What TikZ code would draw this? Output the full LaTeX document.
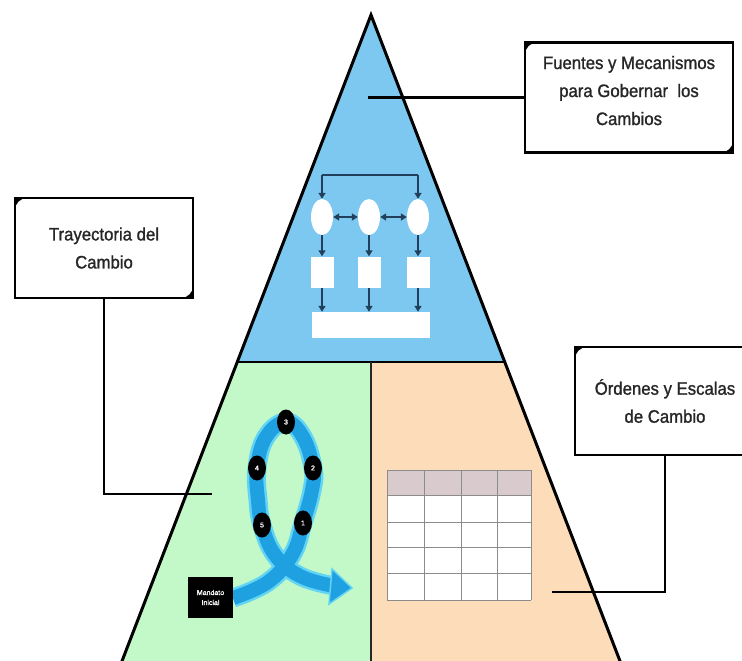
\documentclass[tikz,border=0pt]{standalone}
\usepackage{fontspec}
\setmainfont{Liberation Sans}
\newfontfamily\calloutfont[FakeStretch=0.93,FakeBold=1.2]{Liberation Sans}
\newfontfamily\tinyfont[FakeBold=1.5]{Liberation Sans}
\usetikzlibrary{positioning,arrows.meta,shapes.geometric}
\definecolor{topblue}{HTML}{7DC8F0}
\definecolor{leftgreen}{HTML}{C3F8C8}
\definecolor{rightpeach}{HTML}{FDDDB9}
\definecolor{ribbonblue}{HTML}{1EA0E1}
\definecolor{ribbonglow}{HTML}{62D4F4}
\definecolor{flowdark}{HTML}{22405C}
\definecolor{headgray}{HTML}{D9CACE}
\definecolor{gridgray}{HTML}{8C8C8C}
\definecolor{labelgray}{HTML}{262626}
\tikzset{callout/.style={rectangle, draw=black, line width=2.5pt, fill=white, inner sep=0pt,
  align=center, text=labelgray, font=\calloutfont\fontsize{18}{28}\selectfont,
  path picture={%
    \fill[black] (path picture bounding box.north west) -- ++(#1,0pt)
      arc[start angle=90, end angle=180, radius=#1] -- cycle;
    \fill[black] (path picture bounding box.south east) -- ++(-#1,0pt)
      arc[start angle=270, end angle=360, radius=#1] -- cycle;}},
callout/.default={12pt}}
\tikzset{flowoval/.style={ellipse, fill=white, minimum width=22pt, minimum height=36pt, inner sep=0pt},
flowbox/.style={rectangle, fill=white, minimum width=23pt, minimum height=31pt, inner sep=0pt},
flowarrow/.style={draw=flowdark, line width=1.5pt, -{Triangle[length=6pt,width=7pt]}},
flowboth/.style={draw=flowdark, line width=1.5pt, {Triangle[length=6pt,width=7pt]}-{Triangle[length=6pt,width=7pt]}}}
\tikzset{loopstep/.style={ellipse, fill=black, minimum width=18pt, minimum height=25pt, inner sep=0pt,
  text=white, font=\tinyfont\fontsize{7}{7}\selectfont},
startbox/.style={rectangle, fill=black, minimum width=45pt, minimum height=41pt, inner sep=0pt,
  align=center, text=white, font=\tinyfont\fontsize{7}{10}\selectfont}}

\begin{document}
\begin{tikzpicture}[x=1pt, y=-1pt]
	\path[use as bounding box, clip] (0,0) rectangle (742,661);
	\fill[white] (0,0) rectangle (742,661);
	% pyramid
	\coordinate (apex) at (371,15);
	\coordinate (midleft) at (237.3,362);
	\coordinate (midright) at (504.7,362);
	\coordinate (midmid) at (371,362);
	\coordinate (baseleft) at (114.7,680);
	\coordinate (baseright) at (627.3,680);
	\coordinate (basemid) at (371,680);
	\fill[topblue] (apex) -- (midleft) -- (midright) -- cycle;
	\fill[leftgreen] (midleft) -- (midmid) -- (basemid) -- (baseleft) -- cycle;
	\fill[rightpeach] (midmid) -- (midright) -- (baseright) -- (basemid) -- cycle;
	\draw[line width=2.5pt] (midleft) -- (midright);
	\draw[line width=2pt, draw=black!85] (midmid) -- (basemid);
	\draw[line width=3pt, line join=miter] (baseleft) -- (apex) -- (baseright);

	% flow chart in the top part
	\node[flowoval] (oval1) at (322,217) {};
	\node[flowoval] (oval2) at (369,217) {};
	\node[flowoval] (oval3) at (418,217) {};
	\node[flowbox] (rect1) at (322,272) {};
	\node[flowbox] (rect2) at (369,272) {};
	\node[flowbox] (rect3) at (418,272) {};
	\node[flowbox, minimum width=118pt, minimum height=26pt] (bar) at (371,325) {};
	\coordinate (bracketleft) at (322,175);
	\coordinate (bracketright) at (418,175);
	\draw[draw=flowdark, line width=1.5pt] (bracketleft) -- (bracketright);
	\draw[flowarrow] (bracketleft) -- (oval1.north);
	\draw[flowarrow] (bracketright) -- (oval3.north);
	\draw[flowboth] (oval1) -- (oval2);
	\draw[flowboth] (oval2) -- (oval3);
	\foreach \i in {1,2,3} {
		\draw[flowarrow] (oval\i.south) -- (rect\i.north);
		\draw[flowarrow] (rect\i.south) -- (rect\i.south |- bar.north);
	}

	% change trajectory
	\draw[ribbonglow, line width=19pt] plot[smooth, tension=0.7] coordinates {
		(233,598) (268,582) (292,555) (303,523) (312,490) (313,468) (303,437) (286,422)
		(266,437) (257,468) (258,500) (262,525) (275,555) (300,576) (334,586)};
	\draw[ribbonblue, line width=14pt] plot[smooth, tension=0.7] coordinates {
		(233,598) (268,582) (292,555) (303,523) (312,490) (313,468) (303,437) (286,422)
		(266,437) (257,468) (258,500) (262,525) (275,555) (300,576) (334,586)};
	\filldraw[fill=ribbonblue, draw=ribbonglow, line width=1.5pt, line join=miter]
		(332,569) -- (352,588) -- (329,604) -- cycle;
	\node[loopstep] (step1) at (303,523) {1};
	\node[loopstep] (step2) at (313,468) {2};
	\node[loopstep] (step3) at (286,422) {3};
	\node[loopstep] (step4) at (257,468) {4};
	\node[loopstep] (step5) at (262,525) {5};
	\node[startbox] (mandato) at (210.5,597.5) {Mandato\\Inicial};

	% orders and scales table
	\fill[white] (387,495) rectangle (531,600);
	\fill[headgray] (387,470) rectangle (531,495);
	\foreach \x in {387,424,461,497,531}
		\draw[gridgray, line width=1pt] (\x,470) -- (\x,600);
	\foreach \y in {470,495,522,547,573,600}
		\draw[gridgray, line width=1pt] (387,\y) -- (531,\y);

	% callouts
	\node[callout, minimum width=208pt, minimum height=110pt] (fuentes) at (629,97.5)
		{Fuentes y Mecanismos\\para Gobernar\ \ los\\Cambios\\[-14pt]\mbox{}};
	\node[callout, minimum width=178pt, minimum height=100pt] (trayectoria) at (104,248)
		{Trayectoria del\\Cambio};
	\node[callout, minimum width=180pt, minimum height=108pt] (ordenes) at (665,401)
		{Órdenes y Escalas\\de Cambio};
	\coordinate (fuentesend) at (368,97.5);
	\coordinate (trayectoriaend) at (212,494);
	\coordinate (ordenesend) at (552,592);
	\draw[line width=2.5pt] (fuentesend) -- (fuentes.west);
	\draw[line width=2.5pt] (trayectoria.south) |- (trayectoriaend);
	\draw[line width=2.5pt] (ordenes.south) |- (ordenesend);
\end{tikzpicture}
\end{document}
